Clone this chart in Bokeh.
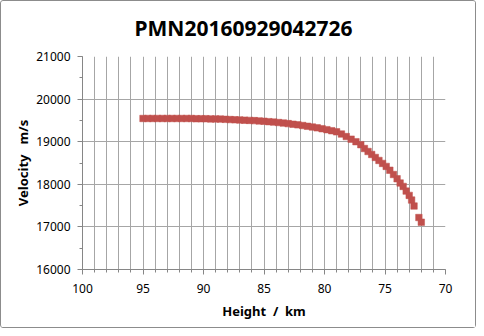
from bokeh.plotting import figure
from bokeh.models import Range1d, FixedTicker, ColumnDataSource
from bokeh.embed import file_html
from bokeh.resources import INLINE

title_text = "PMN20160929042726"
x_label = "Height\u00a0 /\u00a0 km"
y_label = "Velocity\u00a0\u00a0\u00a0m/s"

height_km = [95.0, 94.6, 94.2, 93.8, 93.4, 93.0, 92.6, 92.2, 91.8, 91.4, 91.0,
             90.6, 90.2, 89.8, 89.4, 89.0, 88.6, 88.2, 87.8, 87.4, 87.0, 86.6,
             86.2, 85.8, 85.4, 85.0, 84.6, 84.2, 83.8, 83.4, 83.0, 82.6, 82.2,
             81.8, 81.4, 81.0, 80.6, 80.2, 79.8, 79.4, 79.0, 78.6, 78.2, 77.8,
             77.4, 77.0, 76.7, 76.4, 76.1, 75.8, 75.5, 75.2, 74.9, 74.6, 74.3,
             74.0, 73.75, 73.5, 73.25, 73.0, 72.8, 72.6, 72.2, 72.0]
velocity_ms = [19545, 19545, 19545, 19545, 19545, 19545, 19545, 19545, 19545, 19545, 19545,
               19540, 19540, 19540, 19535, 19535, 19530, 19525, 19520, 19515, 19510, 19505,
               19500, 19495, 19488, 19480, 19470, 19460, 19450, 19438, 19425, 19410, 19395,
               19380, 19362, 19345, 19325, 19305, 19282, 19258, 19232, 19180, 19120, 19060,
               19000, 18930, 18840, 18770, 18700, 18630, 18560, 18490, 18420, 18330, 18230,
               18130, 18030, 17950, 17840, 17740, 17630, 17490, 17220, 17110]

x_major = [100, 95, 90, 85, 80, 75, 70]
x_minor = list(range(70, 101))
y_major = [16000, 17000, 18000, 19000, 20000, 21000]
y_minor = list(range(16000, 21001, 500))

src = ColumnDataSource(dict(h=height_km, v=velocity_ms))

p = figure(width=476, height=328, output_backend="svg", toolbar_location=None,
           x_range=Range1d(100, 70), y_range=Range1d(16000, 21000),
           min_border_left=81, min_border_right=32, min_border_top=55, min_border_bottom=60)

p.styles = {"border": "1px solid #8c8c8c", "border-radius": "3px"}

p.title.text = title_text
p.title.align = "left"
p.title.offset = 52
p.title.vertical_align = "top"
p.title.text_font = "Noto Sans"
p.title.text_font_style = "bold"
p.title.text_font_size = "21px"
p.title.text_color = "#000000"
p.title.standoff = 25

p.outline_line_color = None
p.background_fill_color = "white"
p.border_fill_color = "white"

p.xaxis.ticker = FixedTicker(ticks=x_major, minor_ticks=x_minor)
p.yaxis.ticker = FixedTicker(ticks=y_major, minor_ticks=y_minor)

for ax in (p.xaxis[0], p.yaxis[0]):
    ax.axis_line_color = "#868686"
    ax.major_tick_line_color = "#868686"
    ax.minor_tick_line_color = "#868686"
    ax.major_tick_in = 0
    ax.major_tick_out = 5
    ax.minor_tick_in = 0
    ax.minor_tick_out = 3
    ax.major_label_text_font = "Noto Sans"
    ax.major_label_text_font_size = "12px"
    ax.major_label_text_color = "#000000"
    ax.axis_label_text_font = "Noto Sans"
    ax.axis_label_text_font_size = "13px"
    ax.axis_label_text_font_style = "bold"
    ax.axis_label_text_color = "#000000"

p.xaxis.axis_label = x_label
p.yaxis.axis_label = y_label
p.xaxis.major_label_standoff = 9
p.yaxis.major_label_standoff = 7
p.xaxis.axis_label_standoff = 6
p.yaxis.axis_label_standoff = 1

p.xgrid.ticker = FixedTicker(ticks=x_minor)
p.ygrid.ticker = FixedTicker(ticks=y_major)
p.xgrid.grid_line_color = "#a6a6a6"
p.ygrid.grid_line_color = "#a6a6a6"

p.scatter("h", "v", source=src, marker="square", size=6.5,
          fill_color="#c0504d", line_color="#c0504d", line_width=0.5)

open("out.html", "w").write(file_html(p, INLINE))
